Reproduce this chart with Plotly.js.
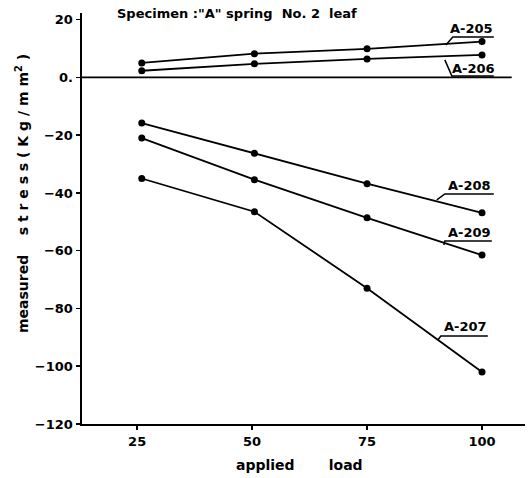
<!DOCTYPE html>
<html><head><meta charset="utf-8">
<script src="https://cdn.plot.ly/plotly-3.0.1.min.js"></script>
<style>body{margin:0;background:#fff}#c{width:528px;height:478px}</style>
</head><body><div id="c"></div>
<script>
var loads = [26, 50.5, 75, 100];
var a205 = [5, 8.2, 9.9, 12.4];
var a206 = [2.3, 4.7, 6.4, 7.8];
var a208 = [-15.8, -26.3, -36.8, -46.9];
var a209 = [-21, -35.4, -48.6, -61.5];
var a207 = [-35, -46.5, -73, -102];
var seriesNames = ['A-205', 'A-206', 'A-208', 'A-209', 'A-207'];
var seriesVals = [a205, a206, a208, a209, a207];
var yTickVals = [20, 0, -20, -40, -60, -80, -100, -120];
var yTickText = ['20', '0.', '\u221220', '\u221240', '\u221260', '\u221280', '\u2212100', '\u2212120'];
var xTickVals = [25, 50, 75, 100];
var xTickText = ['25', '50', '75', '100'];

var F = 'DejaVu Sans, Arial, sans-serif';
var traces = seriesVals.map(function (v, i) {
  return {x: loads, y: v, name: seriesNames[i], mode: 'lines+markers', type: 'scatter',
    line: {color: '#000', width: 1.8}, marker: {color: '#000', size: 7}};
});

function px2x(p) { return 13 + (p - 82) / 4.6; }
function px2y(p) { return (77.5 - p) / 2.8875; }
var labels = [
  {t: 'A-205', x: 472, y: 29, ux0: 453, ux1: 494, uy: 37, lx: 446, ly: 45},
  {t: 'A-206', x: 474, y: 69, ux0: 452, ux1: 494, uy: 76, lx: 445, ly: 60},
  {t: 'A-208', x: 470, y: 186, ux0: 445, ux1: 494, uy: 194, lx: 437, ly: 200},
  {t: 'A-209', x: 470, y: 233, ux0: 445, ux1: 492, uy: 241, lx: 444, ly: 245},
  {t: 'A-207', x: 466, y: 327, ux0: 441, ux1: 488, uy: 336, lx: 438, ly: 340}
];
var annotations = [], shapes = [];
labels.forEach(function (L) {
  annotations.push({x: px2x(L.x), y: px2y(L.y), xref: 'x', yref: 'y', text: '<b>' + L.t + '</b>',
    showarrow: false, font: {family: F, size: 13, color: '#000'}});
  shapes.push({type: 'path', xref: 'x', yref: 'y',
    path: 'M' + px2x(L.ux1) + ',' + px2y(L.uy) + ' L' + px2x(L.ux0) + ',' + px2y(L.uy) + ' L' + px2x(L.lx) + ',' + px2y(L.ly),
    line: {color: '#000', width: 1.5}});
});
shapes.push({type: 'line', xref: 'paper', yref: 'y', x0: 0, x1: 0.97, y0: 0, y1: 0, line: {color: '#000', width: 1.8}});

annotations.push({xref: 'paper', yref: 'paper', x: 0.35, y: 0.998, xanchor: 'center', yanchor: 'middle', showarrow: false,
  text: '<b>Specimen :"A" spring  No. 2  leaf</b>', font: {family: F, size: 13, color: '#000'}});
annotations.push({xref: 'paper', yref: 'paper', x: -0.135, y: 0.56, xanchor: 'center', yanchor: 'middle', textangle: -90, showarrow: false,
  text: '<b>measured    s t r e s s ( K g / m m<sup>2</sup> )</b>', font: {family: F, size: 14, color: '#000'}});
annotations.push({xref: 'paper', yref: 'paper', x: 0.49, y: -0.1, xanchor: 'center', yanchor: 'middle', showarrow: false,
  text: '<b>applied       load</b>', font: {family: F, size: 14, color: '#000'}});

var layout = {
  width: 528, height: 478,
  margin: {l: 82, r: 3, t: 13, b: 54},
  paper_bgcolor: '#fff', plot_bgcolor: '#fff',
  showlegend: false,
  xaxis: {range: [13, 109.35], tickvals: xTickVals, ticktext: xTickText, showgrid: false, zeroline: false,
    showline: true, linecolor: '#000', linewidth: 2, ticks: 'outside', ticklen: 4, tickwidth: 1.5, tickcolor: '#000',
    tickfont: {family: F, size: 13, color: '#000', weight: 'bold'}},
  yaxis: {range: [-120, 22.3], tickvals: yTickVals, ticktext: yTickText, showgrid: false, zeroline: false,
    showline: true, linecolor: '#000', linewidth: 2.5, ticks: 'outside', ticklen: 4, tickwidth: 1.5, tickcolor: '#000',
    tickfont: {family: F, size: 13, color: '#000', weight: 'bold'}},
  annotations: annotations, shapes: shapes
};
Plotly.newPlot('c', traces, layout, {displayModeBar: false, staticPlot: true});
</script></body></html>
